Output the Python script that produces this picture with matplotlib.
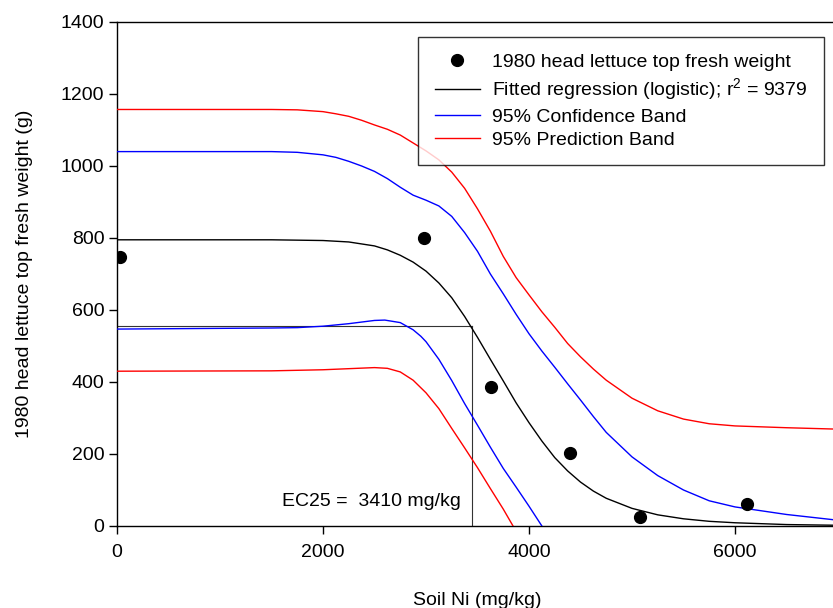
import matplotlib
matplotlib.use("Agg")
import matplotlib.pyplot as plt

plt.rcParams['font.family'] = ['Liberation Sans', 'DejaVu Sans']
plt.rcParams['mathtext.fontset'] = 'custom'
plt.rcParams['mathtext.rm'] = 'Liberation Sans'
plt.rcParams['mathtext.it'] = 'Liberation Sans:italic'

# Observed data
obs_x = [25, 2984, 3630, 4402, 5082, 6117]
obs_y = [746, 801, 387, 204, 26, 61]

# Fitted logistic curve
fit_x = [0, 1000, 1500, 1750, 2000, 2250, 2500, 2625, 2750, 2875, 3000, 3125, 3250,
         3375, 3500, 3625, 3750, 3875, 4000, 4125, 4250, 4375, 4500, 4625, 4750,
         5000, 5250, 5500, 5750, 6000, 6500, 7000]
fit_y = [795, 795, 795, 794, 793, 789, 778, 767, 752, 733, 708, 675, 634,
         582, 524, 463, 403, 342, 287, 236, 190, 153, 122, 97, 77,
         49, 31, 20, 13, 9, 4, 2]

# 95% confidence band
cb_up_x = [0, 1000, 1500, 1750, 2000, 2125, 2250, 2375, 2500, 2625, 2750, 2875, 3000,
           3125, 3250, 3375, 3500, 3625, 3750, 3875, 4000, 4125, 4250, 4375, 4500,
           4625, 4750, 5000, 5250, 5500, 5750, 6000, 6500, 7000]
cb_up_y = [1040, 1040, 1040, 1038, 1031, 1024, 1013, 1000, 985, 965, 941, 919, 905,
           889, 860, 815, 763, 700, 645, 588, 534, 486, 441, 395, 350,
           304, 260, 192, 140, 100, 70, 53, 32, 16]
cb_lo_x = [0, 1500, 1750, 2000, 2250, 2500, 2600, 2750, 2875, 2950, 3000, 3125, 3250,
           3375, 3500, 3625, 3750, 3875, 4000, 4125]
cb_lo_y = [547, 550, 551, 555, 562, 571, 572, 565, 545, 527, 512, 463, 404,
           340, 280, 219, 160, 108, 55, 0]

# 95% prediction band
pb_up_x = [0, 1500, 1750, 2000, 2125, 2250, 2375, 2500, 2625, 2750, 2875, 3000, 3125,
           3250, 3375, 3500, 3625, 3750, 3875, 4000, 4125, 4250, 4375, 4500, 4625,
           4750, 5000, 5250, 5500, 5750, 6000, 6500, 7000]
pb_up_y = [1157, 1157, 1156, 1151, 1145, 1138, 1127, 1114, 1102, 1086, 1064, 1042, 1017,
           983, 938, 881, 819, 749, 690, 642, 595, 552, 507, 470, 436,
           405, 355, 320, 297, 284, 278, 273, 269]
pb_lo_x = [0, 1500, 2000, 2250, 2500, 2625, 2750, 2875, 3000, 3125, 3250, 3375, 3500,
           3625, 3750, 3845]
pb_lo_y = [430, 431, 434, 437, 440, 438, 428, 405, 370, 326, 271, 217, 162,
           104, 47, 0]

ec25_x = 3450
ec25_y = 556
ec25_label = "EC25 =  3410 mg/kg"

xticks = [0, 2000, 4000, 6000]
yticks = [0, 200, 400, 600, 800, 1000, 1200, 1400]

FS = 14

W, H = 833, 608
fig = plt.figure(figsize=(W / 100, H / 100), dpi=100)
left, right, top, bottom = 117, 838, 22, 526
ax = fig.add_axes([left / W, 1 - bottom / H, (right - left) / W, (bottom - top) / H])

ax.plot([0, ec25_x], [ec25_y, ec25_y], color='#333333', lw=0.8, zorder=2)
ax.plot([ec25_x, ec25_x], [0, ec25_y], color='#333333', lw=0.8, zorder=2)

ax.plot(obs_x, obs_y, 'o', color='black', markersize=8.5, zorder=5,
        label='1980 head lettuce top fresh weight')
ax.plot(fit_x, fit_y, color='black', lw=1.0, zorder=4,
        label=r'Fitted regression (logistic); r$^\mathrm{2}$ = 9379')
ax.plot(cb_up_x, cb_up_y, color='blue', lw=1.0, zorder=3, label='95% Confidence Band')
ax.plot(cb_lo_x, cb_lo_y, color='blue', lw=1.0, zorder=3)
ax.plot(pb_up_x, pb_up_y, color='red', lw=1.0, zorder=3, label='95% Prediction Band')
ax.plot(pb_lo_x, pb_lo_y, color='red', lw=1.0, zorder=3)

ax.text(3340, 67, ec25_label, ha='right', va='center', fontsize=FS)

ax.set_xlim(0, 7000)
ax.set_ylim(0, 1400)
ax.set_xticks(xticks)
ax.set_yticks(yticks)
ax.tick_params(direction='out', length=6, width=1, labelsize=FS)
ax.tick_params(axis='x', pad=7)
ax.tick_params(axis='y', pad=3)
for s in ax.spines.values():
    s.set_linewidth(1.0)

ax.set_xlabel('Soil Ni (mg/kg)', fontsize=FS, labelpad=22)
ax.set_ylabel('1980 head lettuce top fresh weight (g)', fontsize=FS, labelpad=20)

leg = ax.legend(loc='upper right', bbox_to_anchor=((824 - left) / (right - left), (bottom - 37) / (bottom - top)),
                borderaxespad=0, fontsize=FS, frameon=True, fancybox=False,
                edgecolor='black', handlelength=2.35, handletextpad=0.6,
                labelspacing=0.28, borderpad=0.85, numpoints=1)
leg.get_frame().set_linewidth(1.0)

fig.savefig('out.png', dpi=100)
